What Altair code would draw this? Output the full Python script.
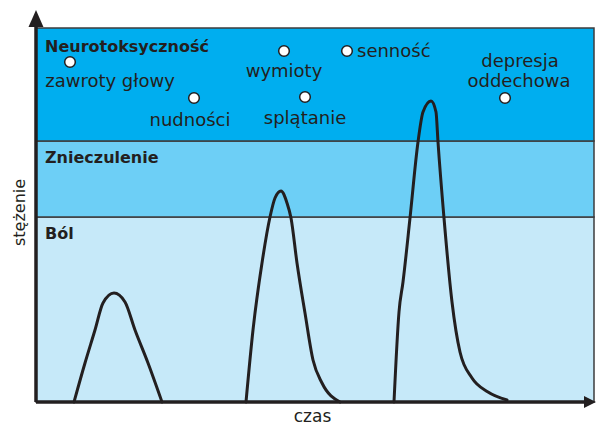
import altair as alt
import pandas as pd

FONT = "DejaVu Sans"
INK = "#231F20"

# Plot units: x = px to the right of the vertical axis, y = px above the time axis
X_MAX = 560
Y_MAX = 392

# Concentration bands (bottom to top)
band_names = ["Ból", "Znieczulenie", "Neurotoksyczność"]
band_lo = [0, 185, 261]
band_hi = [185, 261, 374]
band_x0 = [0, 0, 0]
band_x1 = [558, 558, 558]
band_colors = ["#C6E9F9", "#6DCFF6", "#00AEEF"]
band_label_x = [9, 9, 9]
band_label_y = [163, 239, 350]

# Concentration curves (three doses)
curve1_x = [38, 49, 59, 67, 78, 89, 99, 112, 126]
curve1_y = [0, 39, 72, 99, 109, 100, 72, 39, 0]
curve2_x = [210, 217, 226, 234, 239, 245, 251, 255, 261, 269, 277, 286, 304]
curve2_y = [0, 72, 139, 185, 204, 211, 199, 184, 139, 89, 42, 19, 0]
curve3_x = [358, 363, 367, 374, 382, 387, 395, 400, 402, 408, 416, 424, 436, 452, 471]
curve3_y = [0, 90, 120, 184, 260, 290, 301, 290, 260, 184, 100, 50, 24, 10, 2]

# Symptom markers
dot_names = ["zawroty głowy", "nudności", "wymioty", "splątanie", "senność", "depresja oddechowa"]
dot_x = [34, 158, 248, 269, 311, 469]
dot_y = [340, 304, 351, 305, 351, 304]

# Symptom labels (text lines)
label_text = ["zawroty głowy", "nudności", "wymioty", "splątanie", "senność", "depresja", "oddechowa"]
label_x = [74, 154, 248, 269, 321, 484, 483]
label_y = [315, 276, 325, 278, 345, 335, 315]
label_anchor = ["center", "center", "center", "center", "left", "center", "center"]

# Axis arrows
axis_y_top = 375
axis_x_right = 552
arrow_up_pos = (0, 383.5)
arrow_right_pos = (554, 0)

xs = alt.Scale(domain=[0, X_MAX], nice=False, zero=False)
ys = alt.Scale(domain=[0, Y_MAX], nice=False, zero=False)

x_axis = alt.Axis(domain=False, ticks=False, labels=False, grid=False,
                  title="czas", titleFont=FONT, titleFontSize=17, titleFontWeight="normal",
                  titleColor=INK, titleX=276, titleY=19, titleBaseline="alphabetic",
                  titleAlign="center")
y_axis = alt.Axis(domain=False, ticks=False, labels=False, grid=False,
                  title="stężenie", titleFont=FONT, titleFontSize=16, titleFontWeight="normal",
                  titleColor=INK, titleX=-12, titleY=202, titleAngle=270,
                  titleBaseline="alphabetic", titleAlign="center")


def X(field, **kw):
    return alt.X(field, type="quantitative", scale=xs, axis=x_axis, **kw)


def Y(field, **kw):
    return alt.Y(field, type="quantitative", scale=ys, axis=y_axis, **kw)


bands_df = pd.DataFrame({"name": band_names, "lo": band_lo, "hi": band_hi,
                         "x0": band_x0, "x1": band_x1, "color": band_colors,
                         "lx": band_label_x, "ly": band_label_y})

curves_df = pd.concat([
    pd.DataFrame({"curve": "1", "x": curve1_x, "y": curve1_y}),
    pd.DataFrame({"curve": "2", "x": curve2_x, "y": curve2_y}),
    pd.DataFrame({"curve": "3", "x": curve3_x, "y": curve3_y}),
], ignore_index=True)

dots_df = pd.DataFrame({"name": dot_names, "x": dot_x, "y": dot_y})
labels_df = pd.DataFrame({"text": label_text, "x": label_x, "y": label_y, "anchor": label_anchor})

axes_df = pd.DataFrame({"x": [0, 0], "x2": [0, axis_x_right], "y": [0, 0], "y2": [axis_y_top, 0]})
up_df = pd.DataFrame({"x": [arrow_up_pos[0]], "y": [arrow_up_pos[1]]})
right_df = pd.DataFrame({"x": [arrow_right_pos[0]], "y": [arrow_right_pos[1]]})

bands = alt.Chart(bands_df).mark_rect(stroke="#3C3C3E", strokeWidth=1.5).encode(
    x=X("x0"), x2="x1", y=Y("lo"), y2="hi", color=alt.Color("color:N", scale=None)
)

band_titles = alt.Chart(bands_df).mark_text(
    font=FONT, fontSize=16, fontWeight="bold", color=INK, align="left", baseline="alphabetic"
).encode(x=X("lx"), y=Y("ly"), text="name:N")

curves = alt.Chart(curves_df).mark_line(
    color=INK, strokeWidth=3, interpolate="monotone", strokeCap="round"
).encode(x=X("x"), y=Y("y"), detail="curve:N", order="x:Q")

axes_lines = alt.Chart(axes_df).mark_rule(color=INK, strokeWidth=3.5).encode(
    x=X("x"), x2="x2", y=Y("y"), y2="y2"
)

arrow_up = alt.Chart(up_df).mark_point(
    shape="M0,-1L0.88,1L-0.88,1Z", size=289, filled=True, color=INK, opacity=1
).encode(x=X("x"), y=Y("y"))

arrow_right = alt.Chart(right_df).mark_point(
    shape="M1,0L-1,-1L-1,1Z", size=144, filled=True, color=INK, opacity=1
).encode(x=X("x"), y=Y("y"))

dots = alt.Chart(dots_df).mark_point(
    shape="circle", size=113, filled=True, fill="white", stroke=INK, strokeWidth=1.5, opacity=1
).encode(x=X("x"), y=Y("y"))

labels_c = alt.Chart(labels_df).transform_filter(alt.datum.anchor == "center").mark_text(
    font=FONT, fontSize=18, color=INK, align="center", baseline="alphabetic"
).encode(x=X("x"), y=Y("y"), text="text:N")

labels_l = alt.Chart(labels_df).transform_filter(alt.datum.anchor == "left").mark_text(
    font=FONT, fontSize=18, color=INK, align="left", baseline="alphabetic"
).encode(x=X("x"), y=Y("y"), text="text:N")

chart = alt.layer(
    bands, band_titles, curves, axes_lines, arrow_up, arrow_right, dots, labels_c, labels_l
).properties(
    width=X_MAX, height=Y_MAX,
    autosize=alt.AutoSizeParams(type="none"),
    padding={"left": 28, "top": 2, "right": 0, "bottom": 24},
).configure_view(stroke=None)

chart.save("out.html", embed_options={"renderer": "svg", "actions": False})
